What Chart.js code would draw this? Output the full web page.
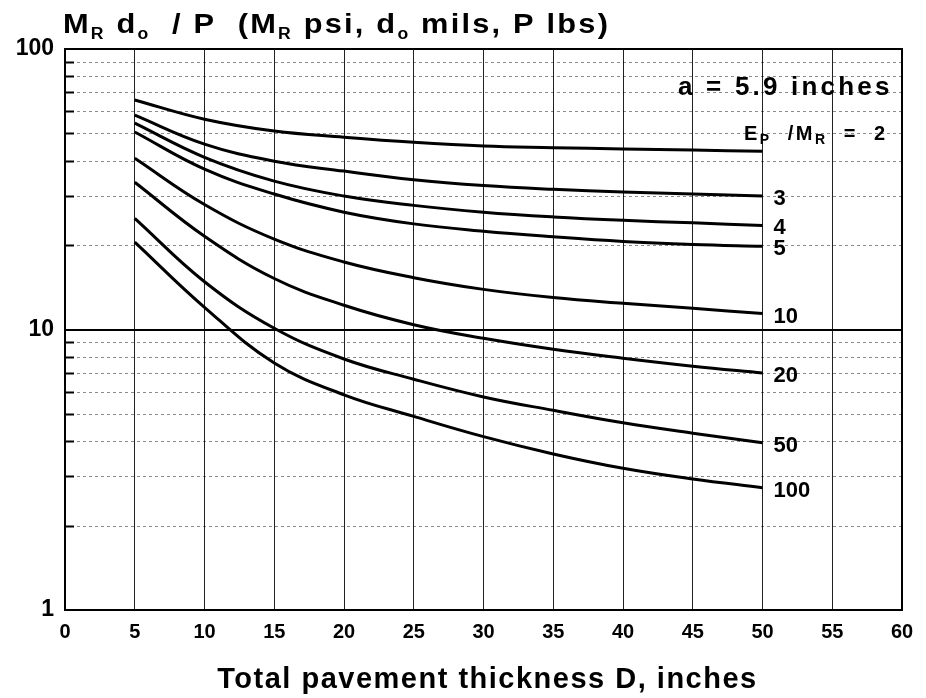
<!DOCTYPE html>
<html>
<head>
<meta charset="utf-8">
<script src="https://cdn.jsdelivr.net/npm/chart.js@4.4.1/dist/chart.umd.min.js"></script>
<style>
  html, body { margin: 0; padding: 0; background: #fff; }
  #wrap { width: 926px; height: 698px; }
</style>
</head>
<body>
<div id="wrap"><canvas id="chart"></canvas></div>
<script>
// thickness D (inches) where the curves were read
const thickness = [5, 10, 15, 20, 25, 30, 35, 40, 45, 50];

// MR*do/P for each Ep/MR ratio
const ep2 = [65.8, 56.2, 51.0, 48.5, 46.5, 45.1, 44.5, 44.0, 43.6, 43.2];
const ep3 = [58.1, 45.8, 39.8, 36.7, 34.2, 32.6, 31.6, 30.9, 30.4, 29.9];
const ep4 = [54.4, 41.1, 33.8, 29.9, 27.7, 26.2, 25.2, 24.5, 24.0, 23.5];
const ep5 = [50.6, 37.3, 30.4, 26.2, 23.8, 22.4, 21.4, 20.6, 20.1, 19.8];
const ep10 = [40.8, 27.9, 21.0, 17.4, 15.3, 13.9, 13.0, 12.4, 11.9, 11.4];
const ep20 = [33.5, 21.5, 15.2, 12.2, 10.4, 9.3, 8.5, 7.9, 7.4, 7.0];
const ep50 = [24.9, 14.8, 10.1, 7.85, 6.65, 5.75, 5.15, 4.65, 4.27, 3.95];
const ep100 = [20.5, 12.0, 7.6, 5.85, 4.9, 4.15, 3.6, 3.2, 2.93, 2.73];

const ratioLabels = ["2", "3", "4", "5", "10", "20", "50", "100"];
const series = [ep2, ep3, ep4, ep5, ep10, ep20, ep50, ep100];

const xTicks = [0, 5, 10, 15, 20, 25, 30, 35, 40, 45, 50, 55, 60];
const yMajor = [1, 10, 100];

const FONT = "'Liberation Sans', Arial, sans-serif";

// draw a run of text pieces; sub pieces are smaller and lowered
function drawRun(ctx, x, y, parts, size, subSize, spacing, sx) {
  ctx.save();
  ctx.translate(x, y);
  ctx.scale(sx || 1, 1);
  ctx.textBaseline = "alphabetic";
  ctx.textAlign = "left";
  ctx.letterSpacing = spacing + "px";
  let cx = 0;
  parts.forEach(([txt, sub]) => {
    ctx.font = "bold " + (sub ? subSize : size) + "px " + FONT;
    ctx.fillText(txt, cx, sub ? Math.round(size * 0.22) : 0);
    cx += ctx.measureText(txt).width;
  });
  ctx.restore();
}

const overlay = {
  id: "overlay",
  beforeDatasetsDraw(chart) {
    const { ctx, chartArea: a, scales: { y } } = chart;
    ctx.save();
    for (let d = 1; d <= 10; d *= 10) {
      for (let m = 2; m <= 9; m++) {
        const py = Math.round(y.getPixelForValue(m * d)) + 0.5;
        ctx.strokeStyle = "rgba(0,0,0,0.45)";
        ctx.lineWidth = 1;
        ctx.setLineDash([3, 3]);
        ctx.beginPath();
        ctx.moveTo(a.left, py);
        ctx.lineTo(a.right, py);
        ctx.stroke();
        ctx.setLineDash([]);
        ctx.strokeStyle = "#000";
        ctx.lineWidth = 2;
        ctx.beginPath();
        ctx.moveTo(a.left, py);
        ctx.lineTo(a.left + 9, py);
        ctx.stroke();
      }
    }
    ctx.restore();
  },
  afterDraw(chart) {
    const { ctx, chartArea: a, scales: { x, y } } = chart;
    ctx.save();
    ctx.strokeStyle = "#000";
    ctx.lineWidth = 2;
    ctx.strokeRect(a.left, a.top, a.right - a.left, a.bottom - a.top);
    ctx.fillStyle = "#000";

    drawRun(ctx, 63, 33, [
      ["M", 0], ["R", 1], [" d", 0], ["o", 1], ["  / P  (M", 0], ["R", 1],
      [" psi, d", 0], ["o", 1], [" mils, P lbs)", 0]
    ], 28, 16, 2, 1.1);

    drawRun(ctx, 678, 95, [["a = 5.9 inches", 0]], 26, 16, 3.2);
    drawRun(ctx, 744, 140, [["E", 0], ["P", 1], ["  /M", 0], ["R", 1], ["  =  2", 0]], 20, 14, 2.5);

    // axis title
    ctx.save();
    ctx.font = "bold 29px " + FONT;
    ctx.letterSpacing = "1.5px";
    ctx.textAlign = "center";
    ctx.textBaseline = "alphabetic";
    ctx.fillText("Total pavement thickness D, inches", (a.left + a.right) / 2 + 4, 688);
    ctx.restore();

    ctx.font = "bold 22px " + FONT;
    ctx.textAlign = "left";
    ctx.textBaseline = "middle";
    series.forEach((s, i) => {
      if (i === 0) return;
      const last = s.length - 1;
      ctx.fillText(ratioLabels[i], x.getPixelForValue(thickness[last]) + 11,
        y.getPixelForValue(s[last]) + 3);
    });
    ctx.restore();
  }
};

new Chart(document.getElementById("chart"), {
  type: "line",
  data: {
    datasets: series.map((s, i) => ({
      label: ratioLabels[i],
      data: thickness.map((t, j) => ({ x: t, y: s[j] })),
      borderColor: "#000",
      borderWidth: 3,
      pointRadius: 0,
      fill: false,
      tension: 0.4
    }))
  },
  options: {
    responsive: true,
    maintainAspectRatio: false,
    animation: false,
    events: [],
    layout: { padding: { top: 49, right: 24, left: 0, bottom: 0 } },
    plugins: { legend: { display: false }, tooltip: { enabled: false } },
    scales: {
      x: {
        type: "linear",
        min: 0,
        max: 60,
        afterBuildTicks: (s) => { s.ticks = xTicks.map((v) => ({ value: v })); },
        afterFit: (s) => { s.height = 88; },
        grid: { color: "#222", lineWidth: 1, drawTicks: false },
        border: { display: false },
        ticks: { color: "#000", padding: 10, font: { family: FONT, size: 20, weight: "bold" } }
      },
      y: {
        type: "logarithmic",
        min: 1,
        max: 100,
        afterFit: (s) => { s.width = 65; },
        grid: {
          drawTicks: false,
          color: (c) => (yMajor.includes(c.tick.value) ? "#000" : "rgba(0,0,0,0)"),
          lineWidth: (c) => (c.tick.value === 10 ? 2 : 1)
        },
        border: { display: false },
        ticks: {
          color: "#000",
          padding: 11,
          autoSkip: false,
          font: { family: FONT, size: 23, weight: "bold" },
          callback: (v) => (yMajor.includes(v) ? String(v) : "")
        }
      }
    }
  },
  plugins: [overlay]
});
</script>
</body>
</html>
